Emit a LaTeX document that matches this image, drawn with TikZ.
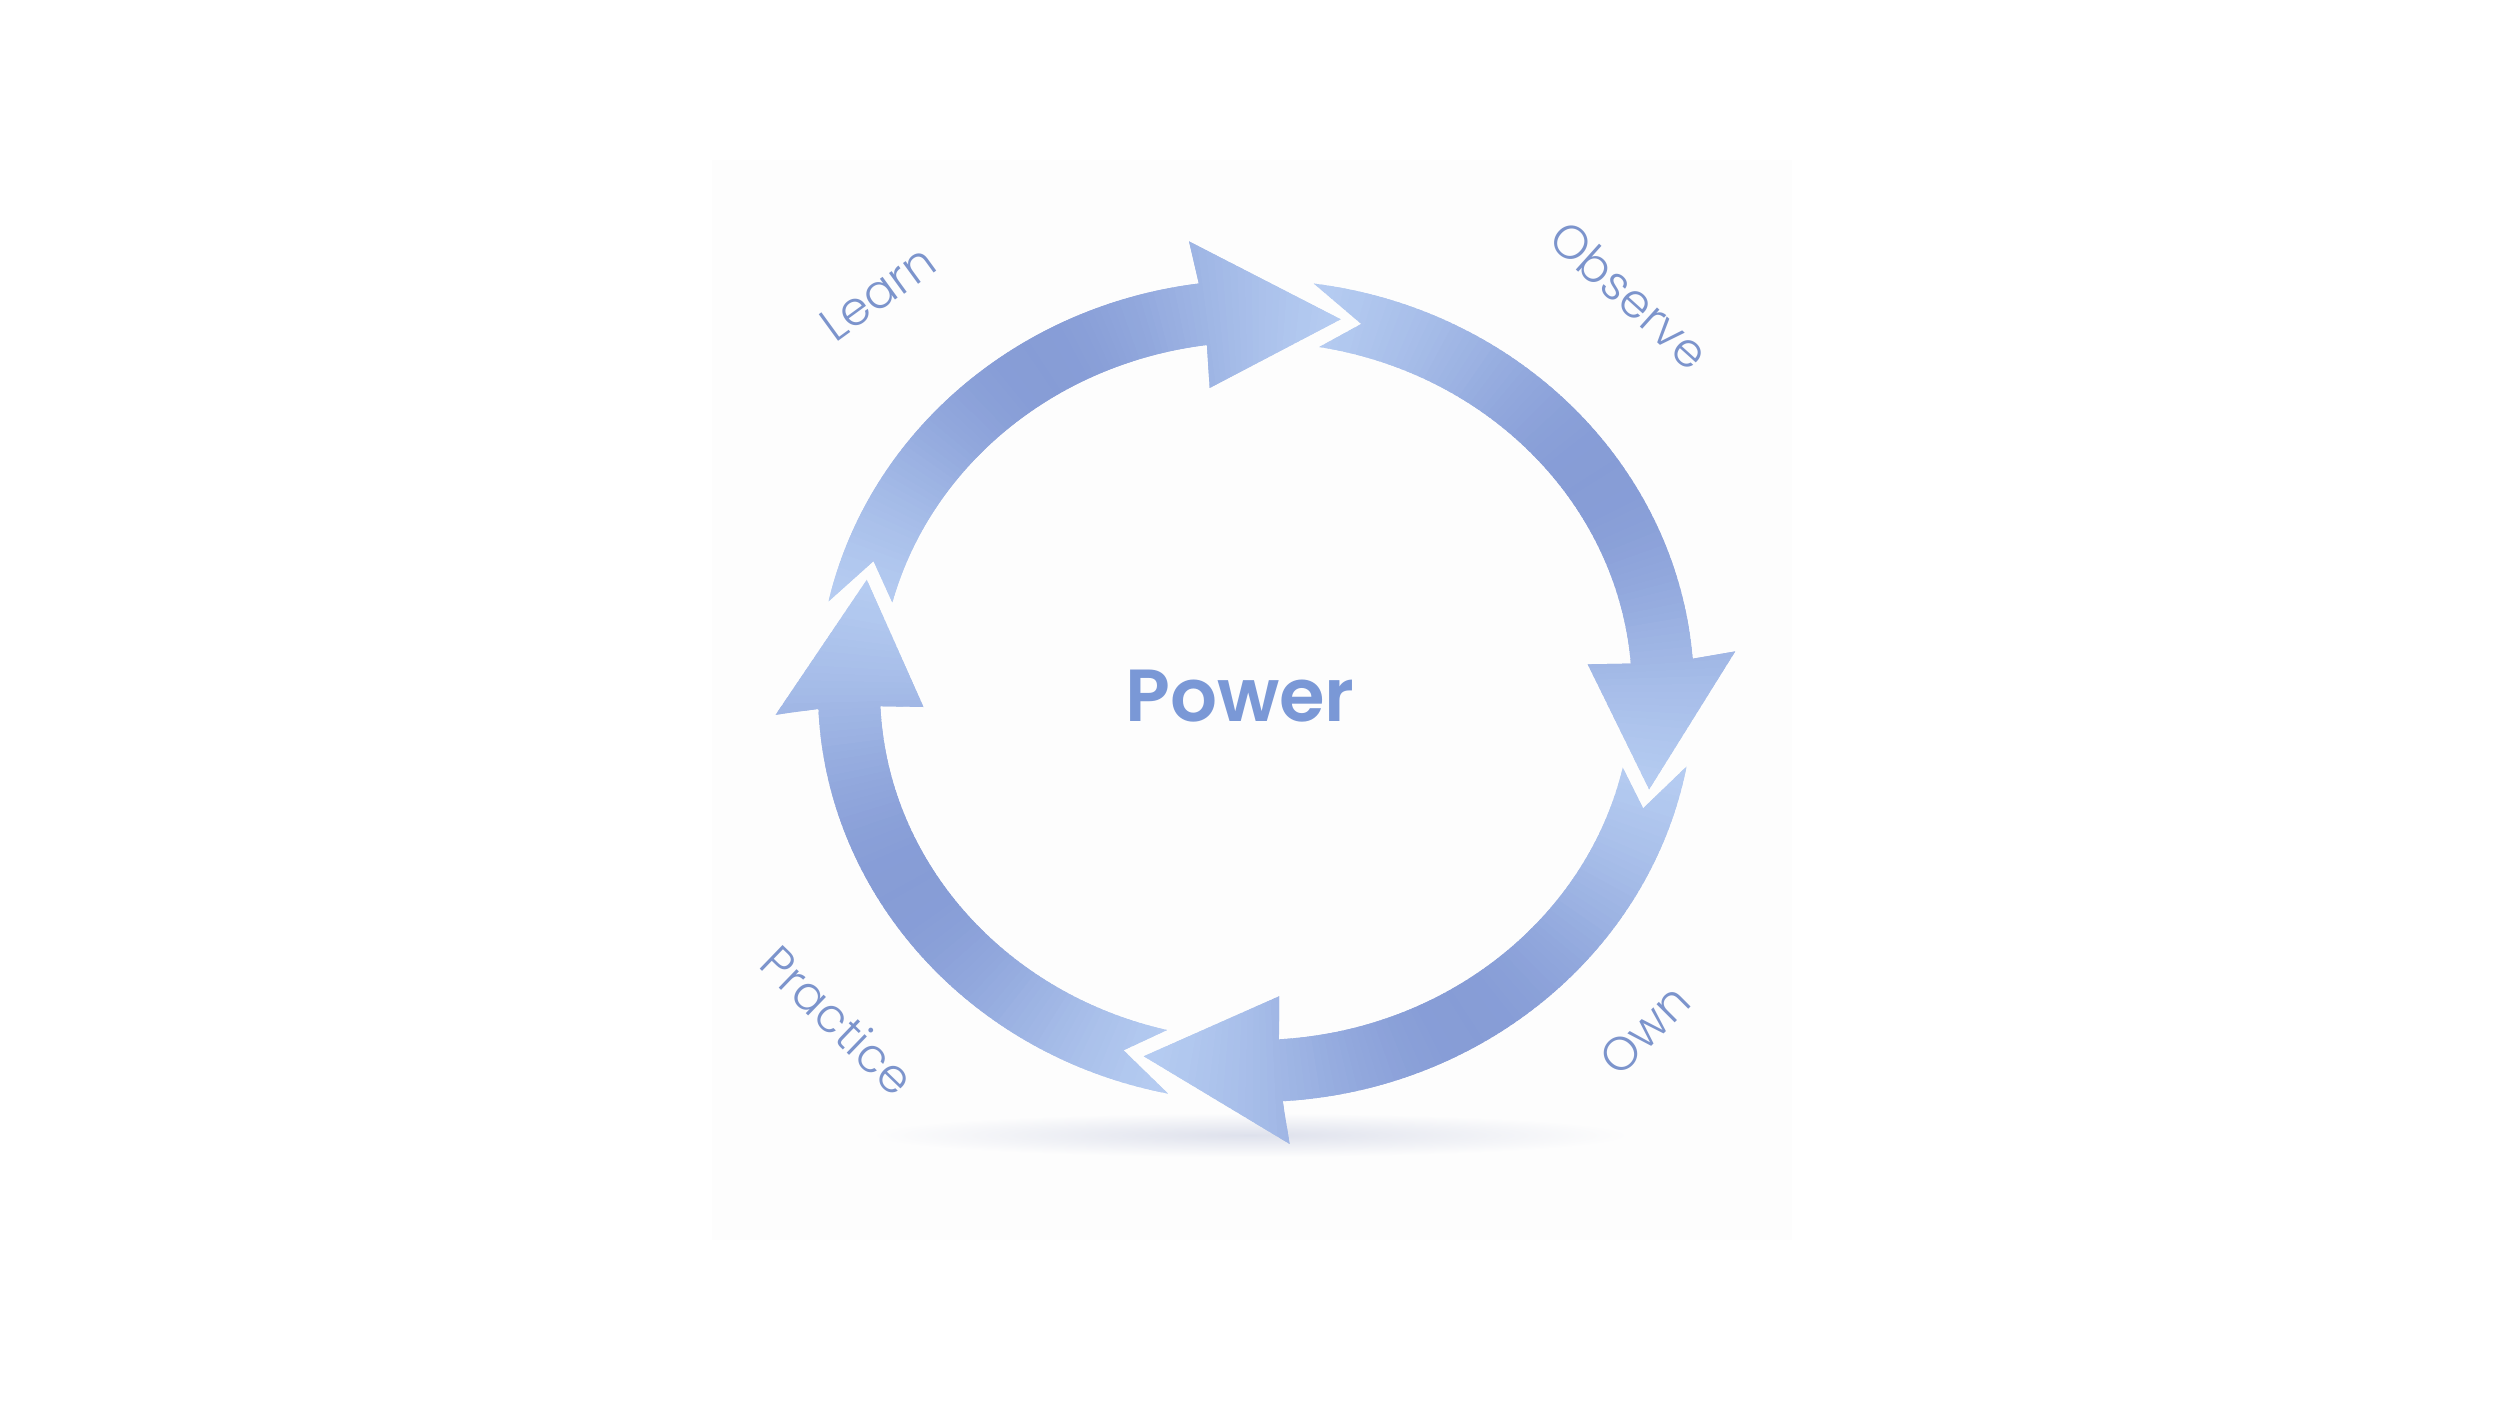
\documentclass[tikz,border=0pt]{standalone}
\usepackage{fontspec}
\setmainfont{Poppins}
\newfontfamily\labfont{Poppins Light}
\newfontfamily\powfont{Poppins SemiBold}
\definecolor{arrL}{RGB}{198,221,251}
\definecolor{arrD}{RGB}{134,156,214}
\definecolor{labc}{RGB}{124,148,204}
\definecolor{powc}{RGB}{122,152,214}
\definecolor{panel}{RGB}{253,253,253}
\definecolor{shadowc}{RGB}{222,225,236}
\tikzset{ring/.cd, a/.store in=\ringa, d/.store in=\ringd}
\makeatletter
\tikzdeclarecoordinatesystem{ring}{%
  \tikzset{ring/.cd,a=0,d=0,#1}%
  \pgfmathsetmacro\ring@x{1256+(407+\ringd)*cos(\ringa)}%
  \pgfmathsetmacro\ring@y{715+(380+\ringd)*sin(\ringa)}%
  \pgfpointxy{\ring@x}{\ring@y}}
\makeatother
\newcommand\ringarrow[2]{%
  \pgfmathsetmacro\arrB{#2+19.5}%
  \pgfmathsetmacro\arrO{#1+4.4}%
  \pgfmathsetmacro\arrI{#1+2.3}%
  \pgfmathsetmacro\arrN{#1-3}%
  \begin{scope}
  \clip (ring cs:a=\arrO,d=31) -- (ring cs:a=\arrN,d=0) -- (ring cs:a=\arrI,d=-31)
     arc[start angle=\arrI,end angle=\arrB,x radius=376,y radius=349]
     -- (ring cs:a=\arrB+0.5,d=-74) -- (ring cs:a=#2,d=0) -- (ring cs:a=\arrB+0.5,d=74)
     -- (ring cs:a=\arrB,d=31)
     arc[start angle=\arrB,end angle=\arrO,x radius=438,y radius=411] -- cycle;
  \foreach \i in {0,...,100}{%
    \pgfmathsetmacro\arrA{#1+6-\i*(#1-#2+10)/100}%
    \pgfmathsetmacro\arrT{(#1+4-\arrA)/(#1-#2+4)}%
    \pgfmathtruncatemacro\arrP{12+88*exp(-((\arrT-0.5)/0.37)*((\arrT-0.5)/0.37))}%
    \colorlet{wedgec}{arrD!\arrP!arrL}%
    \fill[wedgec] (1256,715) -- (ring cs:a=\arrA+0.4,d=220) -- (ring cs:a=\arrA-1.4,d=220) -- cycle;
  }
  \end{scope}}
\tikzset{
  lab/.style={text=labc, font=\labfont\fontsize{18.8}{23}\selectfont, inner sep=0pt},
  pow/.style={text=powc, font=\powfont\fontsize{29.5}{36}\selectfont, inner sep=0pt}
}
\begin{document}
\begin{tikzpicture}[x=0.4pt,y=0.4pt]
\useasboundingbox (0,0) rectangle (2500,1406);
\fill[white] (0,0) rectangle (2500,1406);
\fill[panel] (712,166) rectangle (1792,1246);
\shade[inner color=shadowc, outer color=panel] (1250,271) ellipse [x radius=380, y radius=22];
% arrows: previous tip angle, tip angle
\ringarrow{163}{78}
\ringarrow{78}{-15}
\ringarrow{-15}{-106}
\ringarrow{-106}{-197}
% labels
\node[pow, anchor=base] (power) at (1240,684) {Power};
\node[lab, rotate=36] (learn) at (878,1113) {Learn};
\node[lab, rotate=-42] (observe) at (1630,1111) {Observe};
\node[lab, rotate=-44] (practice) at (838,386) {Practice};
\node[lab, rotate=45] (own) at (1645,376) {Own};
\end{tikzpicture}
\end{document}
